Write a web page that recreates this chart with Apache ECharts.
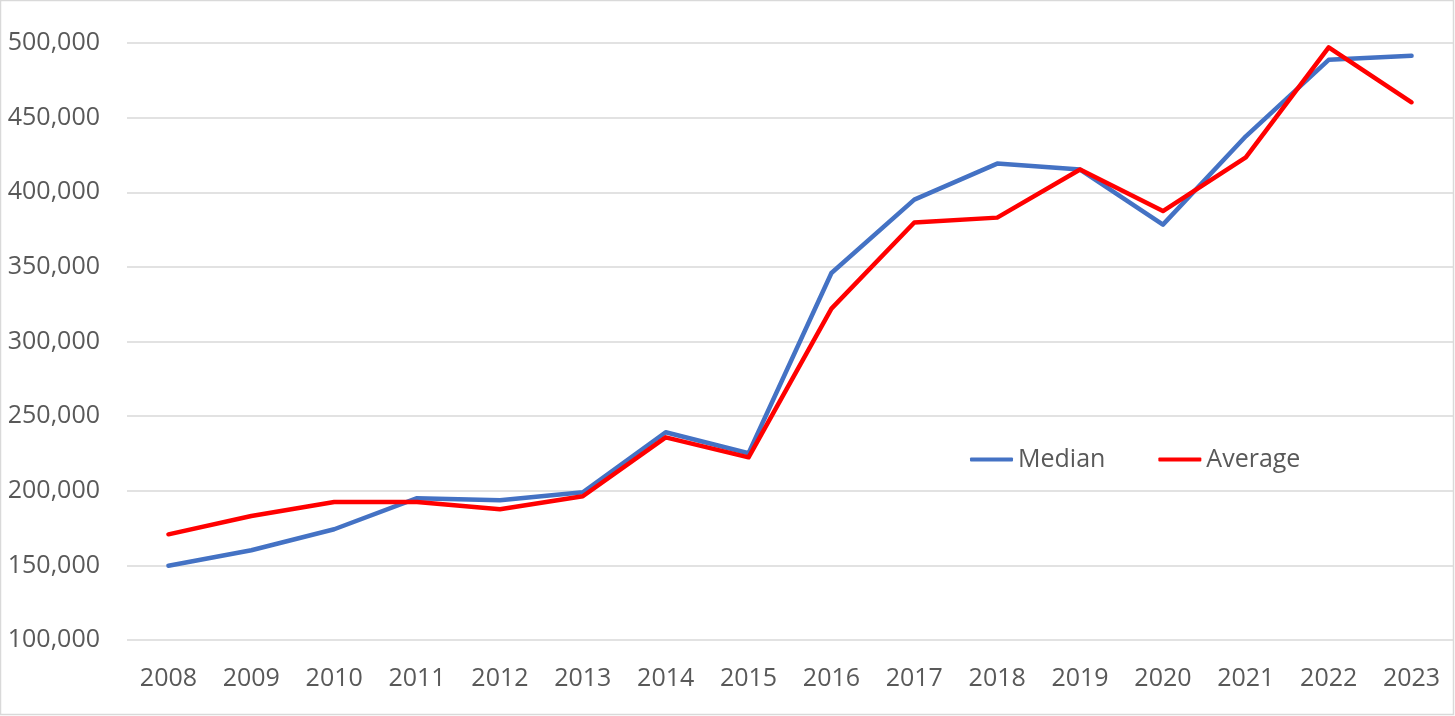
<!DOCTYPE html>
<html><head><meta charset="utf-8">
<script src="https://cdn.jsdelivr.net/npm/echarts@6/dist/echarts.min.js"></script>
<style>html,body{margin:0;padding:0;background:#fff}#c{width:1455px;height:716px}</style>
</head><body><div id="c"></div>
<script>
const years = ['2008','2009','2010','2011','2012','2013','2014','2015','2016','2017','2018','2019','2020','2021','2022','2023'];
const median = [149800,160100,174200,195000,193600,199000,239200,225100,345900,395100,419200,415200,378300,437500,488700,491400];
const average = [170800,183100,192500,192400,187600,196300,235800,222400,322000,379700,383000,415200,387400,423400,497100,460300];
const yTicks = {min:100000, max:500000, interval:50000};

const font = '"Open Sans", "Noto Sans", sans-serif';
const chart = echarts.init(document.getElementById('c'));
chart.setOption({
  animation:false,
  backgroundColor:'#fff',
  grid:{left:127,right:2,top:43,bottom:76,containLabel:false},
  graphic:[{type:'rect',shape:{x:0.5,y:0.5,width:1453,height:714},style:{fill:'none',stroke:'#D9D9D9',lineWidth:1.5},silent:true}],
  legend:{
    left:970, top:447, padding:0, itemWidth:43, itemHeight:4, itemGap:53, icon:'roundRect',
    textStyle:{fontFamily:font,fontSize:25,color:'#595959'},
    data:['Median','Average']
  },
  xAxis:{type:'category',data:years,boundaryGap:true,
    axisLine:{show:false},axisTick:{show:false},
    axisLabel:{fontFamily:font,fontSize:25,color:'#595959',margin:26}},
  yAxis:{type:'value',min:yTicks.min,max:yTicks.max,interval:yTicks.interval,
    axisLine:{show:false},axisTick:{show:false},
    splitLine:{lineStyle:{color:'#D9D9D9',width:1.5}},
    axisLabel:{fontFamily:font,fontSize:25,color:'#595959',margin:27,
      formatter:v=>v.toLocaleString('en-US')}},
  series:[
    {name:'Median',type:'line',data:median,symbol:'none',lineStyle:{color:'#4472C4',width:4.5,cap:'round',join:'round'},itemStyle:{color:'#4472C4'}},
    {name:'Average',type:'line',data:average,symbol:'none',lineStyle:{color:'#FF0000',width:4.5,cap:'round',join:'round'},itemStyle:{color:'#FF0000'}}
  ]
});
</script></body></html>
